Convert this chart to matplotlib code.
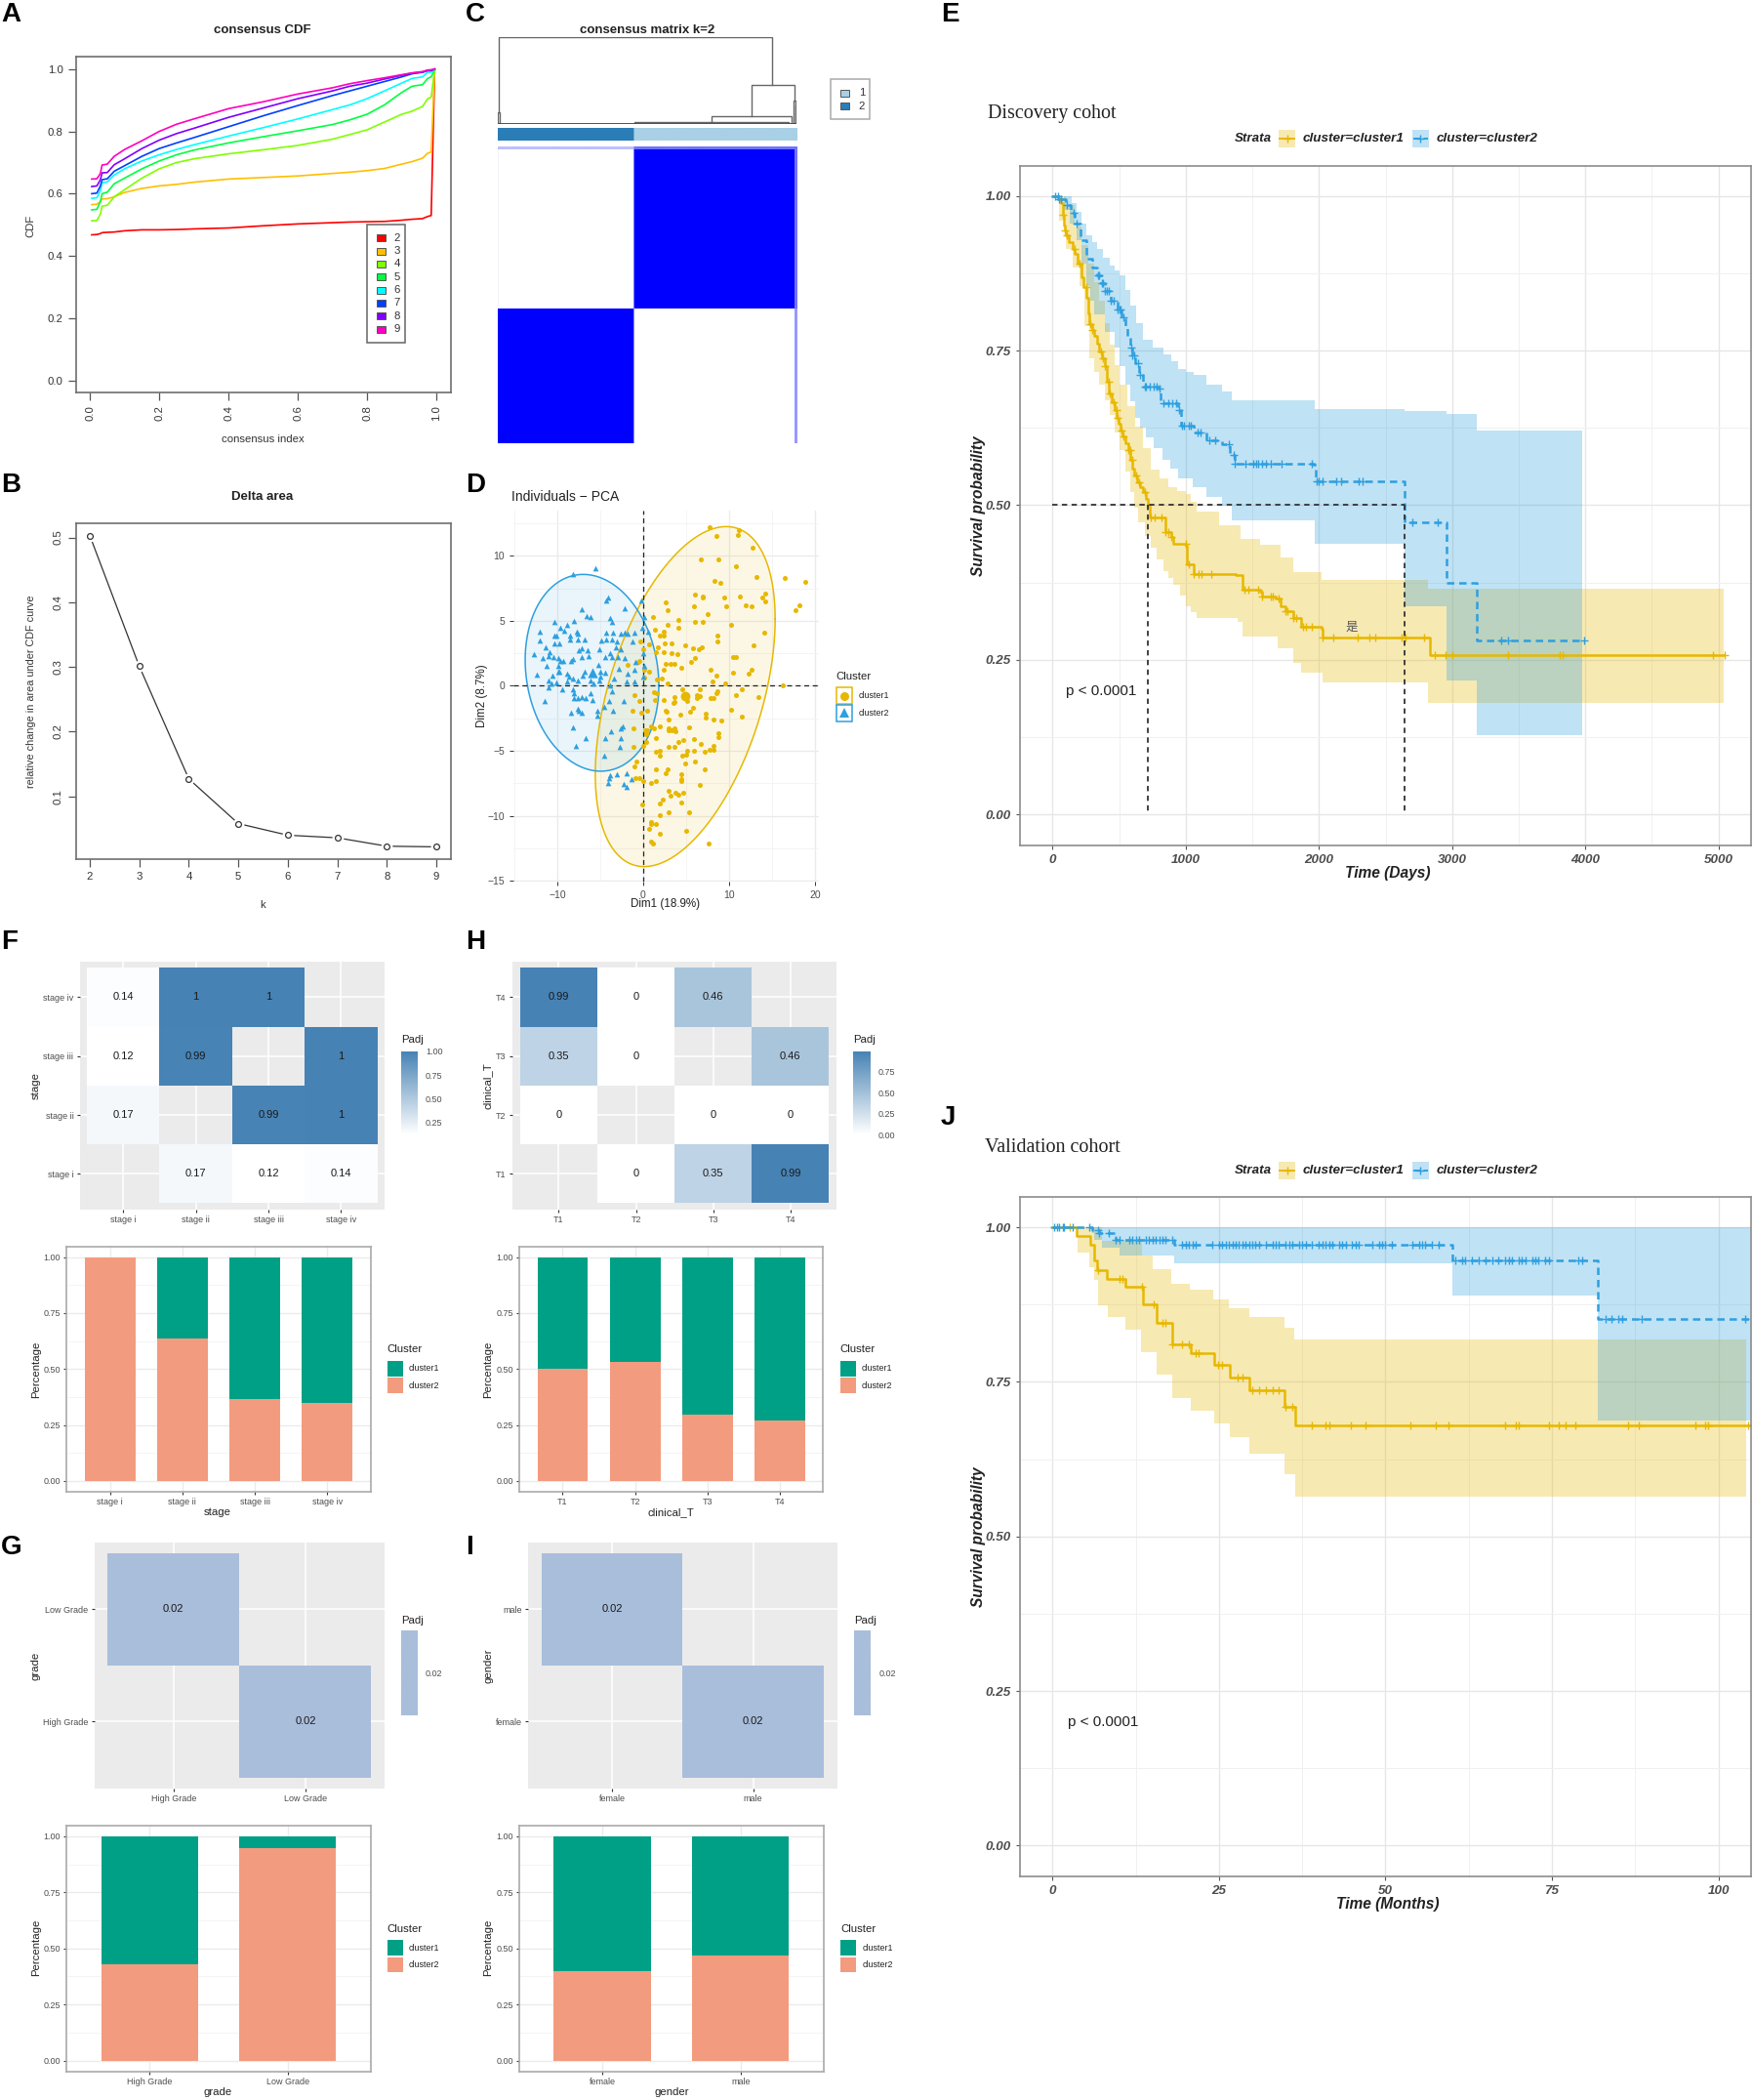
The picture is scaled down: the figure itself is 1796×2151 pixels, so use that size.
import numpy as np
import matplotlib
matplotlib.use('Agg')
import matplotlib.pyplot as plt
from matplotlib.colors import LinearSegmentedColormap, ListedColormap, Normalize
from matplotlib.patches import Rectangle

plt.rcParams['font.family'] = ['Liberation Sans', 'DejaVu Sans']

W, H = 1796, 2151

# --- A: consensus CDF
cdf_x = [0.005, 0.02, 0.03, 0.035, 0.05, 0.07, 0.1, 0.15, 0.2, 0.25, 0.3, 0.4, 0.5, 0.6, 0.7, 0.75, 0.8, 0.85, 0.9, 0.93, 0.96, 0.975, 0.985, 0.995]
cdf_k2 = [.468, .469, .472, .475, .476, .477, .481, .484, .484, .485, .487, .490, .497, .503, .507, .509, .510, .511, .515, .518, .520, .527, .530, 1.0]
cdf_k3 = [.565, .566, .575, .583, .584, .590, .604, .617, .625, .630, .637, .647, .652, .657, .665, .669, .674, .681, .695, .703, .714, .730, .734, 1.0]
cdf_k4 = [.513, .514, .535, .560, .563, .590, .613, .650, .680, .700, .712, .728, .741, .755, .775, .790, .805, .830, .855, .865, .880, .905, .91, 1.0]
cdf_k5 = [.548, .55, .575, .60, .605, .632, .65, .68, .705, .725, .74, .763, .783, .802, .822, .837, .855, .885, .925, .945, .95, .97, .975, 1.0]
cdf_k6 = [.585, .587, .61, .635, .638, .66, .68, .705, .725, .742, .757, .785, .812, .84, .87, .885, .905, .93, .955, .97, .975, .99, .99, 1.0]
cdf_k7 = [.60, .602, .625, .645, .648, .672, .69, .72, .745, .763, .78, .815, .85, .883, .915, .93, .945, .96, .975, .985, .99, .995, .995, 1.0]
cdf_k8 = [.623, .625, .645, .667, .668, .693, .712, .745, .772, .793, .81, .845, .875, .905, .93, .945, .955, .968, .98, .987, .99, .996, .996, 1.0]
cdf_k9 = [.647, .648, .665, .692, .695, .72, .742, .77, .80, .823, .84, .873, .895, .92, .94, .953, .963, .972, .982, .988, .992, .997, .998, 1.0]
cdf_series = [cdf_k2, cdf_k3, cdf_k4, cdf_k5, cdf_k6, cdf_k7, cdf_k8, cdf_k9]
cdf_names = ['2', '3', '4', '5', '6', '7', '8', '9']
cdf_colors = ['#FF0000', '#FFBF00', '#80FF00', '#00FF40', '#00FFFF', '#0040FF', '#8000FF', '#FF00BF']

# --- B: delta area
delta_k = [2, 3, 4, 5, 6, 7, 8, 9]
delta_v = [.503, .301, .127, .058, .040, .036, .023, .022]

# --- D: PCA scatter
pca1_x = [7.7, 11.2, 8.5, 11.0, 12.7, 6.7, 8.8, 10.8, 13.2, 16.5, 18.9, 8.3, 9.0, 6.0, 7.0, 7.0, 9.5, 11.3, 14.2, 13.9, 14.2, 2.6, 5.9, 9.7, 12.0, 12.6, 18.2, 17.7, 2.8, 7.5, 1.1, 4.1, 6.0, 6.9, 2.9, 4.1, 10.2, 1.4, 2.4, 1.9, 2.4, 14.1, 8.6, 8.7, .7, 2.5, 3.3, 4.9, 12.8, 1.7, 5.8, 6.5, 6.8, 0, -.3, 1.5, 2.4, 3.3, 4.0, 10.5, 10.8, 6.0, 5.6, 2.6, 3.2, 3.7, 4.4, -1.8, -.6, -.45, 7.8, 2.4, 12.6, 12.3, 10.5, 8.5, .1, .7, 2.2, 1.6, 8.1, 9.6, 2.8, .1, 16.3, 11.5, 6.6, 4.6, 8.6, 8.5, 10.8, 13.4, 1.25, 1.6, 3.6, 6.3, 6.6, 6.25, 7.8, 8.2, -1.0, -.4, 1.4, 2.4, 3.5, 3.7, 5.1, 5.8, 10.2, -1.2, -.2, .5, 2.6, 2.75, 4.3, 5.5, 7.3, 7.3, 11.5, 3.0, 8.25, 9.1, .9, 1.9, 1.25, 3.0, 3.7, 3.0, 3.3, 3.8, 5.3, -1.1, .2, .5, .3, 8.75, 8.75, 1.5, 5.9, 4.7, 4.1, 6.7, .35, -1.15, 0, 3.0, 3.6, 8.15, 8.25, 7.7, 7.15, 5.9, 5.15, 5.0, 4.6, 1.45, 2.0, 1.95, -.75, -1.0, 4.85, 6.0, 1.5, 2.8, 2.6, 7.2, 4.4, 4.45, 4.4, -.9, -.4, 0, .9, 1.5, 6.65, 3.0, 3.8, 3.15, 4.7, 4.1, 2.3, 1.9, -.1, 4.5, 2.95, 5.3, 2.0, .9, .9, 1.5, .7, 5.0, 1.9, .9, 1.15, 7.6]
pca1_y = [12.2, 12.0, 11.5, 11.6, 10.6, 9.7, 9.7, 9.2, 8.4, 8.3, 8.0, 8.1, 7.9, 7.0, 6.9, 6.8, 6.8, 6.9, 7.1, 6.8, 6.5, 6.4, 6.1, 6.1, 6.2, 6.1, 6.2, 5.8, 5.8, 5.5, 5.3, 5.1, 4.9, 4.9, 4.7, 4.5, 4.7, 4.3, 4.2, 3.9, 3.9, 4.1, 3.9, 3.4, 3.2, 3.3, 3.3, 3.1, 3.1, 3.0, 2.9, 2.8, 3.0, 2.8, 3.4, 2.6, 2.6, 2.5, 2.4, 2.2, 2.2, 2.1, 1.8, 1.7, 1.7, 1.7, 1.4, 1.6, 1.8, 1.9, 1.2, 1.25, 1.25, .9, 1.0, .75, 1.2, 1.1, .55, .5, .3, .15, .2, .6, 0, -.25, -.3, -.3, -.45, -.6, -.7, -.9, -.5, -.6, -.9, -.7, -.8, -.95, -.95, -.95, -.7, -1.15, -1.1, -1.1, -1.3, -1.25, -1.2, -1.7, -1.85, -1.95, -2.1, -1.9, -1.95, -2.0, -2.25, -2.0, -2.15, -2.45, -2.4, -2.6, -2.6, -2.7, -3.1, -3.1, -3.3, -3.25, -3.25, -3.45, -3.45, -3.5, -3.2, -3.3, -3.4, -3.4, -3.7, -3.65, -3.95, -4.05, -4.1, -4.2, -4.3, -4.45, -4.3, -4.7, -4.6, -4.7, -4.7, -4.6, -4.9, -4.9, -5.1, -5.0, -5.0, -5.3, -5.35, -5.1, -5.0, -5.4, -5.85, -6.2, -6.0, -5.85, -6.4, -6.4, -6.7, -6.45, -6.8, -7.2, -7.3, -7.1, -7.1, -7.3, -7.45, -7.35, -7.65, -8.1, -8.2, -8.45, -8.25, -8.4, -8.75, -9.05, -9.15, -8.95, -9.7, -9.7, -9.95, -10.45, -10.6, -10.6, -11.0, -11.15, -11.4, -12.0, -12.15, -12.1]
pca2_x = [-5.55, -8.2, -4.1, -4.3, -.2, -7.15, -2.1, -6.6, -6.1, .15, -3.85, -10.3, -8.1, -3.6, -8.9, -9.7, -9.15, -12, -7.7, -4.3, -3.5, -2.65, -2.15, -1.8, -1, -.15, .55, -10.3, -10.1, -8.55, -7.65, -12, -8.55, -7.6, -6.8, -4.9, -4.25, -3.65, -3.1, -1.2, -10.3, -9.8, -11.4, -5.1, -3.2, -7.5, -7.15, -6.5, -2.55, -12.7, -10.85, -11.7, -11.05, -10.4, -9.9, -7.15, -6.3, -4.45, -3.85, -3.65, -9.7, -9.35, -8.4, -8.2, -2.9, -2.15, -.9, 0, -11.2, -9.85, -9.8, -5.2, -2.8, -1.8, -1, .1, -12.35, -10.6, -9.9, -8.8, -8.6, -7, -6.8, -5.95, -5, -5, -4.45, 0, -11.05, -10.7, -10.1, -8.8, -8.2, -7.65, -6.15, -5.1, -3.35, -1.95, -1, -11.05, -9.45, -8.15, -5.75, -3.85, -3.65, -8.05, -6.15, -11.45, -8.05, -7.65, -7.1, -6.7, -5.95, -3.95, -2.25, -7.65, -8.4, -7.5, -7.1, -5.3, -4.55, -3.5, -5.35, -8.2, -2.65, -2.4, -3.75, -6.65, -4.45, -2.65, -7.85, -2.7, -4.55, -1.9, -3.05, -3.85, -3.95, -1.3, -4.1, -2.25, -1.95]
pca2_y = [9.05, 8.6, 6.8, 6.6, 6.55, 5.9, 6.0, 5.4, 5.3, 5.3, 5.2, 4.9, 5.0, 4.9, 4.7, 4.5, 4.25, 4.2, 4.2, 4.1, 4.1, 4.0, 4.1, 4.05, 4.1, 4.5, 4.2, 3.9, 3.85, 3.9, 4.0, 3.5, 3.55, 3.6, 3.55, 3.5, 3.6, 3.6, 3.4, 3.4, 3.3, 3.3, 3.0, 2.85, 3.0, 2.7, 2.9, 2.7, 2.8, 2.4, 2.55, 2.1, 2.3, 2.2, 2.1, 2.2, 2.3, 2.2, 2.5, 2.2, 1.9, 1.9, 1.9, 2.05, 2.2, 2.1, 1.8, 2.5, 1.5, 1.55, 1.1, 1.6, 1.3, .9, 1.2, 1.55, .85, .75, 1.05, .9, .7, .75, 1.1, 1.05, 1.05, .7, 1.0, .7, .4, .2, .25, .3, .55, .4, .4, .4, .55, .3, .3, -.15, -.3, -.3, .15, 0, -.45, -.6, -.6, -1.2, -.95, -.95, -.9, -.95, -1.1, -1.2, -1.2, -1.75, -2.05, -1.95, -2.1, -1.9, -1.6, -1.95, -2.3, -3.2, -3.25, -3.15, -3.5, -4, -4, -4, -4.6, -4.7, -5.4, -6.7, -6.8, -6.85, -7.1, -7.2, -7.5, -7.55, -7.75]
# ellipse: centre, half widths, correlation
ell1 = (4.9, -.83, 10.47, 13.08, .456)
ell2 = (-5.95, 1.0, 7.78, 7.57, -.131)

# --- E: discovery cohort KM (time, survival)
e1_t = [0, 40, 65, 75, 84, 95, 103, 125, 150, 168, 190, 218, 235, 256, 266, 276, 295, 314, 333, 352, 370, 390, 405, 421, 445, 467, 483, 498, 510, 524, 548, 570, 585, 601, 615, 632, 655, 678, 697, 716, 727, 823, 850, 888, 907, 1003, 1011, 1060, 1374, 1424, 1558, 1570, 1673, 1711, 1750, 1807, 1864, 2018, 2025, 2822, 2833, 5042]
e1_s = [1, .995, .989, .97, .952, .945, .937, .925, .915, .906, .89, .869, .852, .835, .81, .793, .784, .774, .761, .748, .737, .725, .70, .68, .667, .654, .642, .631, .621, .611, .60, .589, .574, .559, .548, .537, .529, .521, .51, .499, .48, .48, .457, .448, .438, .435, .405, .389, .387, .363, .361, .352, .350, .337, .329, .318, .303, .300, .286, .286, .257, .257]
e1u_t = [0, 103, 168, 220, 268, 310, 350, 390, 429, 467, 505, 560, 620, 680, 735, 800, 869, 935, 1003, 1040, 1080, 1250, 1413, 1558, 1711, 1807, 2018, 2822, 5042]
e1u_s = [1, .985, .95, .92, .89, .86, .83, .795, .76, .727, .695, .66, .627, .592, .558, .543, .529, .523, .518, .505, .49, .468, .446, .436, .416, .392, .38, .365, .365]
e1l_t = [0, 50, 103, 150, 199, 240, 276, 315, 352, 390, 429, 467, 505, 545, 582, 610, 640, 690, 735, 783, 831, 870, 907, 955, 1003, 1040, 1080, 1386, 1424, 1692, 1807, 1864, 2025, 2822, 5042]
e1l_s = [1, .96, .914, .885, .854, .79, .737, .715, .695, .67, .646, .618, .589, .555, .521, .496, .472, .45, .431, .412, .393, .382, .371, .354, .337, .327, .318, .312, .288, .269, .245, .229, .214, .18, .18]
e1_cens = [60, 80, 95, 110, 165, 200, 255, 285, 300, 360, 380, 395, 420, 430, 460, 480, 490, 520, 530, 570, 580, 600, 630, 650, 690, 740, 770, 820, 850, 870, 890, 1000, 1020, 1060, 1100, 1120, 1190, 1440, 1470, 1540, 1570, 1640, 1650, 1700, 1750, 1760, 1810, 1830, 1880, 1900, 1950, 2030, 2110, 2290, 2380, 2420, 2620, 2650, 2790, 2870, 2950, 3000, 3420, 3810, 3830, 4960, 5050]

e2_t = [0, 50, 103, 135, 168, 210, 256, 295, 333, 360, 390, 440, 486, 515, 544, 563, 582, 600, 620, 650, 678, 793, 812, 946, 965, 1060, 1156, 1271, 1329, 1367, 1960, 1979, 2642, 2956, 3185, 3990]
e2_s = [1, .995, .986, .972, .955, .928, .899, .885, .872, .859, .846, .831, .817, .803, .789, .772, .755, .742, .729, .71, .691, .688, .665, .654, .629, .618, .605, .598, .582, .567, .565, .539, .472, .374, .282, .282]
e2u_t = [0, 103, 140, 180, 220, 256, 295, 333, 380, 429, 465, 505, 545, 582, 630, 678, 755, 831, 890, 946, 1000, 1060, 1156, 1271, 1348, 1968, 2642, 2956, 3185, 3978]
e2u_s = [1, 1, .988, .974, .955, .937, .925, .914, .90, .888, .88, .872, .848, .823, .795, .767, .755, .744, .732, .72, .715, .71, .695, .684, .67, .655, .652, .648, .62, .62]
e2l_t = [0, 84, 130, 180, 220, 256, 285, 314, 390, 467, 505, 544, 580, 620, 660, 697, 760, 823, 885, 946, 1050, 1156, 1271, 1348, 1968, 2642, 2956, 3185, 3978]
e2l_s = [1, .978, .955, .929, .89, .854, .83, .808, .78, .755, .725, .695, .668, .642, .625, .61, .592, .574, .559, .544, .529, .514, .499, .476, .438, .337, .216, .128, .128]
e2_cens = [20, 40, 50, 60, 110, 160, 180, 340, 350, 370, 380, 395, 405, 420, 440, 460, 490, 500, 510, 530, 590, 600, 610, 640, 660, 690, 700, 730, 760, 780, 800, 830, 870, 900, 930, 950, 975, 990, 1020, 1040, 1090, 1110, 1180, 1220, 1320, 1360, 1370, 1450, 1510, 1530, 1540, 1570, 1600, 1640, 1720, 1950, 1980, 2000, 2030, 2130, 2170, 2300, 2330, 2700, 2890, 3370, 3420, 3990]
e_medians = [716, 2640]

# --- J: validation cohort KM
j1_t = [0, 3.6, 5.7, 6.3, 6.7, 8.2, 11, 13.5, 15.6, 17.9, 20.7, 24.3, 26.6, 29.6, 34.8, 36.4, 104.7]
j1_s = [1, .986, .972, .946, .931, .917, .903, .875, .845, .811, .796, .777, .757, .737, .71, .68, .68]
j1u_t = [0, 3.75, 7.4, 13.4, 15.1, 17.8, 20.6, 24.1, 26.4, 29.5, 34.8, 36.3, 104.2]
j1u_s = [1, 1, .978, .954, .932, .909, .899, .883, .869, .854, .837, .818, .818]
j1l_t = [0, 3.75, 5.5, 6.3, 6.9, 8.3, 11, 13.3, 15.6, 17.9, 20.7, 24.3, 26.6, 29.6, 34.8, 36.4, 104.2]
j1l_s = [1, .959, .935, .914, .874, .854, .835, .798, .761, .724, .703, .683, .66, .634, .6, .564, .564]
j1_cens = [2.6, 6.8, 10, 10.5, 13.4, 15.2, 16.5, 17, 18, 19.5, 20.5, 21.5, 22, 24.8, 25.5, 27.8, 28.5, 30, 31, 32, 33, 34, 35, 36, 39, 41, 41.5, 44.8, 47, 53.8, 57.6, 59.5, 68, 69.5, 70, 74.5, 76, 77, 78.5, 86.5, 88, 96.5, 98, 98.5, 104.5]

j2_t = [0, 5.9, 7, 9.5, 18.3, 60, 81.9, 104.9]
j2_s = [1, .995, .99, .98, .971, .946, .851, .851]
j2u_t = [0, 104.9]
j2u_s = [1, 1]
j2l_t = [0, 6, 6.3, 7.4, 10, 18.3, 60, 81.9, 104.9]
j2l_s = [1, .99, .98, .967, .954, .941, .89, .687, .687]
j2_cens = [.3, .7, 1, 1.5, 1.7, 3, 5.5, 6.8, 7, 8.5, 9.5, 10, 11.5, 12, 12.5, 13, 14, 14.5, 15, 15.5, 16, 16.5, 17, 18, 19.5, 20, 20.5, 21, 21.5, 24, 25, 25.5, 26, 26.5, 27, 27.5, 28, 28.5, 29, 29.5, 30, 30.5, 31, 32, 33, 33.5, 34, 35, 35.5, 36, 37, 37.5, 38, 39, 40, 40.5, 41, 41.5, 42, 43, 43.5, 44, 45, 45.5, 46, 48, 49, 49.5, 50, 51, 54, 55, 55.5, 56, 57, 58, 60.5, 61.5, 62, 63, 64, 65, 66, 67, 68, 68.5, 69, 70, 70.5, 71, 72, 72.5, 73, 74, 74.5, 79, 79.5, 83, 84, 85, 85.5, 88.5, 104]

# --- F-I: pairwise heatmaps and stacked bars
stage_levels = ['stage i', 'stage ii', 'stage iii', 'stage iv']
stage_padj = [[np.nan, .17, .12, .14], [.17, np.nan, .99, 1], [.12, .99, np.nan, 1], [.14, 1, 1, np.nan]]
stage_frac = [1.0, .636, .365, .35]
t_levels = ['T1', 'T2', 'T3', 'T4']
t_padj = [[np.nan, 0, .35, .99], [0, np.nan, 0, 0], [.35, 0, np.nan, .46], [.99, 0, .46, np.nan]]
t_frac = [.5, .53, .297, .27]
grade_levels = ['High Grade', 'Low Grade']
grade_padj = [[np.nan, .02], [.02, np.nan]]
grade_frac = [.43, .945]
gender_levels = ['female', 'male']
gender_padj = [[np.nan, .02], [.02, np.nan]]
gender_frac = [.40, .47]

YEL, BLU = '#E7B800', '#2E9FDF'
TEAL, SALMON = '#00A087', '#F39B7F'
STEEL = '#4682B4'
GREY_T = '#4D4D4D'

fig = plt.figure(figsize=(W / 100, H / 100), dpi=100, facecolor='white')


def axpx(l, t, r, b, **kw):
    return fig.add_axes([l / W, 1 - b / H, (r - l) / W, (b - t) / H], **kw)


ov = fig.add_axes([0, 0, 1, 1], zorder=50)
ov.set_xlim(0, W)
ov.set_ylim(H, 0)
ov.axis('off')
ov.patch.set_alpha(0)


def txt(x, y, s, size=8, ha='center', va='center', **kw):
    ov.text(x, y, s, fontsize=size, ha=ha, va=va, **kw)


def r_style(ax):
    for sp in ax.spines.values():
        sp.set_color('#6E6E6E')
        sp.set_linewidth(1.2)
    ax.tick_params(colors='#333333', length=6, width=0.9, color='#555555')


# panel letters
for s, x, y in [('A', 1, 15), ('B', 1, 497), ('C', 477, 15), ('D', 477, 497), ('E', 964, 15),
                ('F', 1, 965), ('G', 1, 1585), ('H', 477, 965), ('I', 477, 1585), ('J', 964, 1145)]:
    txt(x, y, s, size=20, ha='left', fontweight='bold', color='black')

# A
ax = axpx(78, 58, 462, 402)
r_style(ax)
for vals, c in zip(cdf_series, cdf_colors):
    ax.plot(cdf_x, vals, color=c, lw=1.2)
ax.set_xlim(-.04, 1.042)
ax.set_ylim(-.038, 1.04)
ax.set_xticks([0, .2, .4, .6, .8, 1])
ax.set_xticklabels(['0.0', '0.2', '0.4', '0.6', '0.8', '1.0'], rotation=90, fontsize=8.2)
ax.set_yticks([0, .2, .4, .6, .8, 1])
ax.set_yticklabels(['0.0', '0.2', '0.4', '0.6', '0.8', '1.0'], fontsize=8.2)
txt(269, 31, 'consensus CDF', size=9.5, fontweight='bold', color='#222222')
txt(269, 450, 'consensus index', size=8.2, color='#333333')
txt(31, 231, 'CDF', size=8.2, rotation=90, color='#333333')
ov.add_patch(Rectangle((376.3, 230), 39, 120.7, fc='white', ec='#666666', lw=1.1))
for i, (n, c) in enumerate(zip(cdf_names, cdf_colors)):
    yy = 243.7 + i * 13.33
    ov.add_patch(Rectangle((386, yy - 3.5), 8.5, 7, fc=c, ec='#555555', lw=0.7))
    txt(407, yy, n, size=8.2, color='#333333')

# B
ax = axpx(78, 536, 462, 880)
r_style(ax)
ax.plot(delta_k, delta_v, color='#333333', lw=0.9, zorder=2)
ax.plot(delta_k, delta_v, ls='none', marker='o', ms=7.5, mfc='white', mec='white', zorder=3)
ax.plot(delta_k, delta_v, ls='none', marker='o', ms=4.2, mfc='white', mec='#333333', mew=0.9, zorder=4)
ax.set_xlim(2 - 14 / 50.7, 9 + 15 / 50.7)
ax.set_ylim(.003, .522)
ax.set_xticks(delta_k)
ax.set_yticks([.1, .2, .3, .4, .5])
ax.tick_params(labelsize=8.2)
plt.setp(ax.get_yticklabels(), rotation=90, va='center')
txt(269, 509, 'Delta area', size=9.5, fontweight='bold', color='#222222')
txt(269, 927, 'k', size=8.2, color='#333333')
txt(32, 708, 'relative change in area under CDF curve', size=7.8, rotation=90, color='#333333')

# C
n_rows, n_cols, n_left, n_top_rows, n_strip = 304, 306, 139, 3, 3
split_row = 166
mat = np.zeros((n_rows, n_cols))
mat[:split_row, n_left:] = 1.0
mat[split_row:, :n_left] = 1.0
mat[:n_top_rows, :n_left] = .25
mat[:n_top_rows, n_left:] = .55
mat[:split_row, -n_strip:] = .55
mat[split_row:, -n_strip:] = .4
mat[:, 0] = np.where(mat[:, 0] == 0, .05, mat[:, 0])
ax = axpx(510, 150, 816, 454)
ax.imshow(mat, cmap=LinearSegmentedColormap.from_list('wb', ['white', '#0000FF']), vmin=0, vmax=1,
          aspect='auto', interpolation='bilinear')
ax.axis('off')
ax = axpx(510, 131, 816, 144)
ax.imshow([[0] * n_left + [1] * (n_cols - n_left)], cmap=ListedColormap(['#2A7DB6', '#A9D0E5']), aspect='auto')
ax.axis('off')
# dendrogram merges: left leaf pos, right leaf pos, left bottom, right bottom, height
dendro = [(.004, .919, .14, .45, 1.0), (.851, .994, .09, .27, .45), (.715, .983, .02, .01, .09),
          (.458, .973, 0, 0, .02), (.0, .008, 0, 0, .14), (.991, .997, 0, 0, .27), (.997, 1.0, 0, 0, .21)]
ax = axpx(510, 38, 816, 127)
for x0, x1, b0, b1, h in dendro:
    ax.plot([x0, x0, x1, x1], [b0, h, h, b1], color='#666666', lw=1.0, solid_joinstyle='miter')
ax.plot([.004, 1.0], [0, 0], color='#444444', lw=1.3)
ax.set_xlim(0, 1)
ax.set_ylim(0, 1)
ax.axis('off')
txt(663, 31, 'consensus matrix k=2', size=9.5, fontweight='bold', color='#222222')
ov.add_patch(Rectangle((850.7, 81), 40, 41.3, fc='white', ec='#AAAAAA', lw=1.1))
for yy, c, s in [(95, '#A9D0E5', '1'), (108.7, '#2A7DB6', '2')]:
    ov.add_patch(Rectangle((861, yy - 3.5), 8.7, 7, fc=c, ec='#555555', lw=0.7))
    txt(883, yy, s, size=8.2, color='#333333')

# D
ax = axpx(526, 522.7, 839.3, 902.7)
ax.set_xlim(-15.1, 20.5)
ax.set_ylim(-15.04, 13.5)
for sp in ax.spines.values():
    sp.set_visible(False)
ax.set_xticks([-10, 0, 10, 20])
ax.set_xticklabels(['\u221210', '0', '10', '20'])
ax.set_yticks([-15, -10, -5, 0, 5, 10])
ax.set_yticklabels(['\u221215', '\u221210', '\u22125', '0', '5', '10'])
ax.set_xticks([-15, -5, 5, 15], minor=True)
ax.set_yticks([-12.5, -7.5, -2.5, 2.5, 7.5, 12.5], minor=True)
ax.tick_params(which='major', labelsize=7.5, colors=GREY_T, length=3, width=0.7, color='#333333')
ax.tick_params(which='minor', length=0)
ax.grid(True, which='major', color='#EBEBEB', lw=1)
ax.grid(True, which='minor', color='#F2F2F2', lw=0.6)
ax.set_axisbelow(True)
tt = np.radians(np.arange(0, 361, 3))
for (cx, cy, rx, ry, rho), c in [(ell1, YEL), (ell2, BLU)]:
    ex = cx + rx * np.cos(tt)
    ey = cy + ry * (rho * np.cos(tt) + np.sqrt(1 - rho ** 2) * np.sin(tt))
    ax.fill(ex, ey, color=c, alpha=.1, lw=0)
    ax.plot(ex, ey, color=c, lw=1.1)
ax.axhline(0, color='#222222', ls='--', lw=0.9, dashes=(4, 3))
ax.axvline(0, color='#222222', ls='--', lw=0.9, dashes=(4, 3))
ax.scatter(pca1_x, pca1_y, s=13, color=YEL, marker='o', lw=0, zorder=3)
ax.scatter(pca2_x, pca2_y, s=17, color=BLU, marker='^', lw=0, zorder=3)
ax.scatter([ell1[0]], [ell1[1]], s=50, color=YEL, marker='o', lw=0, zorder=3)
ax.scatter([ell2[0]], [ell2[1]], s=55, color=BLU, marker='^', lw=0, zorder=3)
txt(524, 509, 'Individuals \u2212 PCA', size=10, ha='left', color='#222222')
txt(681.7, 925.7, 'Dim1 (18.9%)', size=8.4, color='#222222')
txt(494, 713, 'Dim2 (8.7%)', size=8.4, rotation=90, color='#222222')
txt(856.7, 693, 'Cluster', size=8.2, ha='left', color='#222222')
for y0, c, m, s in [(704.3, YEL, 'o', 'cluster1'), (722, BLU, '^', 'cluster2')]:
    ov.add_patch(Rectangle((857, y0), 16.3, 16.5, fc='#FFFFFF', ec=c, lw=1.1))
    ov.plot([865], [y0 + 8.3], marker=m, ms=6.5, color=c, mew=0)
    txt(879.3, y0 + 8.5, s, size=6.4, ha='left', color='#222222')


# survival panels
def step_at(ts, ss, q):
    return np.asarray(ss)[np.searchsorted(ts, q, side='right') - 1]


def km_panel(box, xlim, xticks, xminor, curves):
    ax = axpx(*box)
    ax.set_xlim(*xlim)
    ax.set_ylim(-.05, 1.049)
    ax.set_xticks(xticks)
    ax.set_yticks([0, .25, .5, .75, 1])
    ax.set_yticklabels(['0.00', '0.25', '0.50', '0.75', '1.00'])
    ax.set_xticks(xminor, minor=True)
    ax.set_yticks([.125, .375, .625, .875], minor=True)
    ax.grid(True, which='major', color='#E6E6E6', lw=1)
    ax.grid(True, which='minor', color='#F0F0F0', lw=0.7)
    ax.set_axisbelow(True)
    for sp in ax.spines.values():
        sp.set_color('#8C8C8C')
        sp.set_linewidth(1.2)
    ax.tick_params(which='major', length=3, width=0.8, color='#555555', labelsize=9.6, labelcolor=GREY_T)
    ax.tick_params(which='minor', length=0)
    for lab in ax.get_xticklabels() + ax.get_yticklabels():
        lab.set_fontstyle('italic')
        lab.set_fontweight('bold')
    for t, s, ut, us, lt, ls_, cens, c, style, lw in curves:
        grid = np.sort(np.unique(np.concatenate([ut, lt])))
        ax.fill_between(grid, step_at(lt, ls_, grid), step_at(ut, us, grid), step='post', color=c, alpha=.3, lw=0)
        ax.step(t, s, where='post', color=c, ls=style, lw=lw)
        ax.plot(cens, step_at(t, s, cens), ls='none', marker='+', ms=5.5, mew=1.0, color=c)
    return ax


def km_legend(y):
    txt(1265, y, 'Strata', size=9.6, ha='left', fontweight='bold', fontstyle='italic', color='#222222')
    for x0, xl, c, s, st in [(1310, 1335, YEL, 'cluster=cluster1', '-'), (1446.6, 1472, BLU, 'cluster=cluster2', '--')]:
        ov.add_patch(Rectangle((x0, y - 9), 17, 18, fc=c, alpha=.3, lw=0))
        ov.plot([x0 + 1, x0 + 16], [y, y], color=c, lw=1.4, ls=st)
        ov.plot([x0 + 8.5], [y], marker='+', ms=5.5, mew=1, color=c)
        txt(xl, y, s, size=9.7, ha='left', fontweight='bold', fontstyle='italic', color='#222222')


ax = km_panel((1045, 169.6, 1794, 866), (-245, 5245), [0, 1000, 2000, 3000, 4000, 5000], [500, 1500, 2500, 3500, 4500],
              [(e1_t, e1_s, e1u_t, e1u_s, e1l_t, e1l_s, e1_cens, YEL, '-', 1.8),
               (e2_t, e2_s, e2u_t, e2u_s, e2l_t, e2l_s, e2_cens, BLU, (0, (3, 2)), 1.8)])
ax.plot([0, e_medians[1]], [.5, .5], color='#333333', ls='--', lw=1.3, dashes=(3, 2.5))
for m in e_medians:
    ax.plot([m, m], [.5, 0], color='#333333', ls='--', lw=1.3, dashes=(3, 2.5))
ax.text(2247, .303, '\u662f', fontsize=9, ha='center', va='center', color='#555555', family=['Noto Sans CJK SC', 'DejaVu Sans'])
ax.text(103, .2, 'p < 0.0001', fontsize=11, ha='left', va='center', color='#222222')
txt(1012, 117, 'Discovery cohot', size=14.4, ha='left', family=['Liberation Serif'], color='#222222')
km_legend(142)
txt(1002, 518, 'Survival probability', size=11.2, rotation=90, fontweight='bold', fontstyle='italic', color='#222222')
txt(1422, 895, 'Time (Days)', size=11.2, fontweight='bold', fontstyle='italic', color='#222222')

ax = km_panel((1045, 1226, 1794, 1922), (-4.9, 104.9), [0, 25, 50, 75, 100], [12.5, 37.5, 62.5, 87.5],
              [(j1_t, j1_s, j1u_t, j1u_s, j1l_t, j1l_s, j1_cens, YEL, '-', 1.8),
               (j2_t, j2_s, j2u_t, j2u_s, j2l_t, j2l_s, j2_cens, BLU, (0, (3, 2)), 1.8)])
ax.text(2.3, .2, 'p < 0.0001', fontsize=11, ha='left', va='center', color='#222222')
txt(1009, 1175, 'Validation cohort', size=14.5, ha='left', family=['Liberation Serif'], color='#222222')
km_legend(1199)
txt(1002, 1574, 'Survival probability', size=11.2, rotation=90, fontweight='bold', fontstyle='italic', color='#222222')
txt(1422, 1951, 'Time (Months)', size=11.2, fontweight='bold', fontstyle='italic', color='#222222')


def heat_panel(box, levels, padj, cbar_box, cbar_ticks, single, ylabel_pos, ylabel, padj_pos):
    n = len(levels)
    ax = axpx(*box)
    ax.set_facecolor('#EBEBEB')
    arr = np.ma.masked_invalid(np.array(padj, dtype=float))
    if single:
        cmap, norm = ListedColormap(['#A9BEDB']), Normalize(0, 1)
    else:
        cmap = LinearSegmentedColormap.from_list('wsb', ['white', STEEL])
        norm = Normalize(arr.min(), arr.max())
    ax.grid(True, color='white', lw=1.1)
    ax.set_axisbelow(True)
    ax.pcolormesh(np.arange(n + 1) - .5, np.arange(n + 1) - .5, arr, cmap=cmap, norm=norm, edgecolors='none')
    for r in range(n):
        for c in range(n):
            if not arr.mask[r, c]:
                ax.text(c, r, f'{arr[r, c]:g}', ha='center', va='center', fontsize=8, color='#1A1A1A')
    ax.set_xlim(-.6, n - .4)
    ax.set_ylim(-.6, n - .4)
    ax.set_xticks(range(n))
    ax.set_xticklabels(levels)
    ax.set_yticks(range(n))
    ax.set_yticklabels(levels)
    ax.tick_params(length=2.5, width=0.8, labelsize=6.5, labelcolor=GREY_T, color='#333333', pad=2)
    for sp in ax.spines.values():
        sp.set_visible(False)
    txt(ylabel_pos[0], ylabel_pos[1], ylabel, size=8.2, rotation=90, color='#222222')
    txt(padj_pos[0], padj_pos[1], 'Padj', size=8.2, ha='left', color='#222222')
    cax = axpx(*cbar_box)
    lo, hi = (0, 1) if single else (arr.min(), arr.max())
    cax.imshow(np.linspace(hi, lo, 200)[:, None], cmap=cmap, norm=norm if not single else None, aspect='auto', extent=(0, 1, lo, hi))
    for sp in cax.spines.values():
        sp.set_visible(False)
    cax.set_xticks([])
    cax.yaxis.tick_right()
    cax.set_yticks([.5] if single else cbar_ticks)
    cax.set_yticklabels(['0.02'] if single else [f'{v:.2f}' for v in cbar_ticks])
    cax.tick_params(length=0, labelsize=6.5, labelcolor=GREY_T, pad=6)


def bar_panel(box, levels, frac, xlabel, xlabel_pos, ylabel_pos, leg_x, label_x, leg_y, cluster_y):
    n = len(levels)
    ax = axpx(*box)
    x = np.arange(n)
    frac = np.array(frac)
    ax.bar(x, frac, width=.7, color=SALMON, lw=0, zorder=2)
    ax.bar(x, 1 - frac, width=.7, bottom=frac, color=TEAL, lw=0, zorder=2)
    ax.set_xlim(-.6, n - .4)
    ax.set_ylim(-.048, 1.048)
    ax.set_xticks(x)
    ax.set_xticklabels(levels)
    ax.set_yticks([0, .25, .5, .75, 1])
    ax.set_yticklabels(['0.00', '0.25', '0.50', '0.75', '1.00'])
    ax.set_yticks([.125, .375, .625, .875], minor=True)
    ax.grid(True, which='major', color='#EBEBEB', lw=1)
    ax.grid(True, which='minor', axis='y', color='#F2F2F2', lw=0.6)
    ax.set_axisbelow(True)
    for sp in ax.spines.values():
        sp.set_color('#AAAAAA')
        sp.set_linewidth(1.2)
    ax.tick_params(which='major', length=2.5, width=0.8, labelsize=6.5, labelcolor=GREY_T, color='#333333', pad=2)
    ax.tick_params(which='minor', length=0)
    txt(xlabel_pos[0], xlabel_pos[1], xlabel, size=8.2, color='#222222')
    txt(ylabel_pos[0], ylabel_pos[1], 'Percentage', size=8.2, rotation=90, color='#222222')
    txt(leg_x, cluster_y, 'Cluster', size=8.2, ha='left', color='#222222')
    for y0, c, s in [(leg_y, TEAL, 'cluster1'), (leg_y + 17.4, SALMON, 'cluster2')]:
        ov.add_patch(Rectangle((leg_x, y0), 16.3, 15.6, fc=c, lw=0))
        txt(label_x, y0 + 7.8, s, size=6.4, ha='left', color='#222222')


heat_panel((81.7, 985.3, 394, 1238.5), stage_levels, stage_padj, (410.7, 1077, 427.7, 1162), [.25, .5, .75, 1.0], False, (37, 1112), 'stage', (411, 1065))
bar_panel((68.3, 1276.5, 379.7, 1528), stage_levels, stage_frac, 'stage', (223, 1549), (37, 1402.5), 396.7, 419, 1394, 1382)
heat_panel((525, 985.3, 857.3, 1238.5), t_levels, t_padj, (874, 1077, 891.3, 1162), [0, .25, .5, .75], False, (500, 1112), 'clinical_T', (874, 1065))
bar_panel((532, 1276.5, 843.3, 1528), t_levels, t_frac, 'clinical_T', (687, 1549), (500, 1402.5), 860.7, 882.7, 1394, 1382)
heat_panel((96.7, 1579.6, 394, 1832), grade_levels, grade_padj, (410.7, 1670, 427.7, 1757), [], True, (37, 1706), 'grade', (411, 1660))
bar_panel((68.3, 1869.8, 379.7, 2121.6), grade_levels, grade_frac, 'grade', (223, 2143), (37, 1995), 396.7, 419, 1987.4, 1976)
heat_panel((541, 1579.6, 858, 1832), gender_levels, gender_padj, (875, 1670, 892, 1757), [], True, (500, 1706), 'gender', (875, 1660))
bar_panel((532, 1869.8, 843.7, 2121.6), gender_levels, gender_frac, 'gender', (688, 2143), (500, 1995), 861, 883.3, 1987.4, 1976)

fig.savefig('out.png', dpi=100)
